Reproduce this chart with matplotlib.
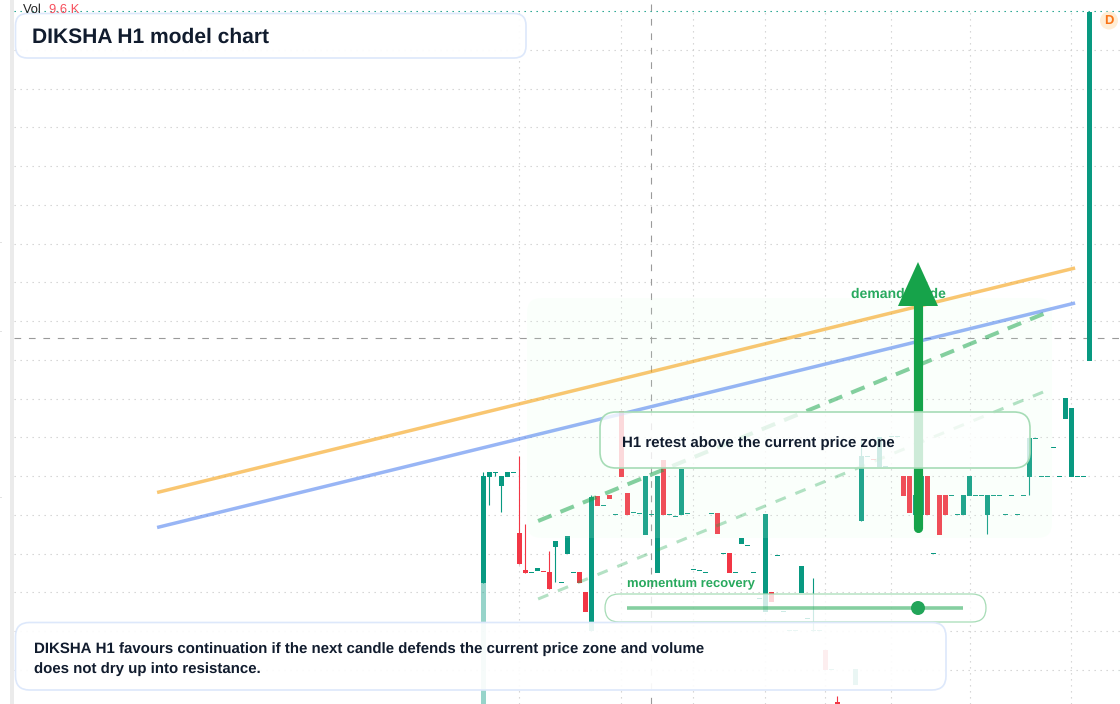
import matplotlib
matplotlib.use("Agg")
import matplotlib.pyplot as plt
from matplotlib.patches import FancyBboxPatch, Polygon, Circle, Rectangle
from matplotlib.transforms import Affine2D

plt.rcParams['font.family'] = ['Liberation Sans', 'DejaVu Sans']
plt.rcParams['text.hinting'] = 'no_hinting'
plt.rcParams['text.hinting_factor'] = 1

# candle slot, open, close (price levels)
candle_idx = [0, 1, 2, 3, 4, 5, 6, 7, 8, 9,
              10, 11, 12, 13, 14, 15, 16, 17, 18, 19,
              20, 21, 22, 23, 24, 25, 26, 27, 28, 29,
              30, 31, 32, 33, 34, 35, 36, 37, 38, 39,
              40, 41, 42, 43, 44, 45, 46, 47, 48, 49,
              50, 51, 52, 53, 54, 55, 56, 57, 58, 59,
              62, 63, 64, 65, 66, 67, 68, 69,
              70, 71, 72, 73, 74, 75, 76, 77, 78, 79,
              80, 81, 82, 83, 84, 85, 86, 87, 88, 89,
              90, 91, 92, 93, 94, 95, 96, 97, 98, 99,
              100, 101]
opens = [121, 227, 231, 218, 227, 231, 171, 134, 131, 133,
         133.5, 132, 157, 121, 150, 131, 132, 112, 73, 208,
         198.5, 209, 189, 293, 211, 191, 190, 169, 189, 131,
         244, 189.5, 187.5, 189, 190, 134, 133.5, 131, 190, 191,
         150, 151, 131, 160, 158, 131, 105.5, 92, 112, 148,
         92.5, 73.5, 73.5, 111, 85, 73.5, 73.5, 54, 34, 2,
         19, 183, 247.5, 245.5, 237, 237.5, 267, 267,
         228, 228, 189, 189, 228, 150, 209, 209, 208, 189,
         189, 208, 208, 208, 189, 208, 208, 189, 208, 189,
         208, 227.5, 265.5, 227, 227, 256, 227, 285, 227.5, 227,
         227, 343.5]
closes = [228, 232, 232, 228, 232, 232, 140, 131, 132, 136,
          132.5, 115, 163, 122, 168, 132, 121.5, 92, 207, 198,
          199.5, 205, 190, 227, 189, 192, 191, 228, 190, 228,
          189, 190.5, 188.5, 235.5, 191, 135, 134.5, 132, 191, 170,
          151, 131, 132, 166, 159, 132, 106.5, 190, 102, 149,
          93.5, 74.5, 74.5, 138, 86, 74.5, 74.5, 34, 35, -10,
          35, 248, 248.5, 244.5, 267, 238.5, 268, 268,
          208, 191, 209, 228, 189, 151, 169, 189, 209, 190,
          209, 228, 209, 209, 209, 209, 209, 190, 209, 190,
          209, 266, 266.5, 228, 228, 257, 228, 306, 296, 228,
          228, 692]

# wicks that stick out of the body: slot, high, low
wick_idx = [0, 1, 2, 3, 6, 7, 11, 12, 18, 55, 59, 63, 84, 91]
wick_high = [232, 232, 232, 228, 248, 180, 153, 163, 209, 126, 8, 264, 209, 266]
wick_low = [121, 199, 228, 192, 140, 131, 115, 122, 73, 73.5, 2, 183, 170, 209]

# volume bar showing under the first candle
vol_idx = [0]
vol_values = [121]

grid_levels = [693 - 38.75 * k for k in range(1, 18)]
grid_slots = [5.9, 22.9, 34.9, 46.9, 56.9, 67.9, 81.1, 97.9]
top_level = 693
cross_level = 366
cross_slot = 27.9

# lines: slot start/end, level start/end
orange_x, orange_y = [-54.4, 98.6], [211.5, 436]
blue_x, blue_y = [-54.4, 98.6], [176.5, 401]
dash_dark_x, dash_dark_y = [9.1, 94.1], [183, 392]
dash_light_x, dash_light_y = [9.1, 94.1], [105, 314]
arrow_x, arrow_y = [72.4, 72.4], [176.5, 400]

GREEN = '#089981'
RED = '#f23645'
INK = '#111c2e'
MID = '#28a95e'

fig = plt.figure(figsize=(11.2, 7.04), dpi=100)
ax = fig.add_axes([0, 0, 1, 1])
ax.set_xlim((0 - 483.5) / 6, (1120 - 483.5) / 6)
ax.set_ylim(0, 704)
ax.set_autoscalex_on(False)
ax.set_autoscaley_on(False)
ax.axis('off')

# pixel space, y pointing down, for the boxes and labels
px = Affine2D().scale(1, -1).translate(0, 704)
left_slot = (14 - 483.5) / 6

# grid and crosshair
ax.hlines(grid_levels, left_slot, ax.get_xlim()[1], color='#cfcfcf', lw=0.8,
          linestyles=(0, (1.2, 4.2)), zorder=1)
ax.vlines(grid_slots, 0, top_level, color='#cfcfcf', lw=0.8,
          linestyles=(0, (1.2, 4.2)), zorder=1)
ax.hlines([top_level], left_slot, ax.get_xlim()[1], color=GREEN, lw=0.8,
          linestyles=(0, (1.2, 4.2)), zorder=1)
ax.hlines([cross_level], left_slot, ax.get_xlim()[1], color='#9a9a9a', lw=0.8,
          linestyles=(0, (6, 7)), zorder=1.5)
ax.vlines([cross_slot], 0, 702, color='#9a9a9a', lw=0.8,
          linestyles=(0, (6, 7)), zorder=1.5)

# left strip and small scale marks
ax.add_patch(Rectangle((10, 0), 4, 704, transform=px, color='#ebebeb', lw=0, zorder=1))
for y in [242, 331, 497]:
    ax.add_patch(Rectangle((0, y), 2, 1, transform=px, color='#e2e2e2', lw=0, zorder=1))

# candles
colors = [GREEN if c >= o else RED for o, c in zip(opens, closes)]
bottoms = [min(o, c) for o, c in zip(opens, closes)]
heights = [abs(c - o) for o, c in zip(opens, closes)]
ax.bar(vol_idx, vol_values, width=5 / 6, color=GREEN, alpha=0.42, lw=0, zorder=2)
wick_colors = [colors[candle_idx.index(i)] for i in wick_idx]
# nudged a little so the snapped line lands in the middle of the body
ax.vlines([i - 0.1 for i in wick_idx], wick_low, wick_high, colors=wick_colors, lw=0.8, zorder=2)
ax.bar(candle_idx, heights, bottom=bottoms, width=5 / 6, color=colors, lw=0, zorder=2.1)

# pale zone over the candles
ax.add_patch(FancyBboxPatch((527, 298), 525, 240, boxstyle='round,pad=0,rounding_size=14',
                            transform=px, fc='#deffe6', ec='none', alpha=0.12, zorder=3))

# trend lines
ax.plot(dash_light_x, dash_light_y, color='#16a34a', alpha=0.32, lw=2.2,
        dashes=(3.6, 3.4), zorder=4)
ax.plot(dash_dark_x, dash_dark_y, color='#16a34a', alpha=0.52, lw=2.9,
        dashes=(3.6, 2.4), zorder=4)
ax.plot(orange_x, orange_y, color='#f59e0b', alpha=0.58, lw=2.5, solid_capstyle='butt', zorder=4)
ax.plot(blue_x, blue_y, color='#2563eb', alpha=0.47, lw=2.5, solid_capstyle='butt', zorder=4)

ax.text(851, 294, 'demand guide', transform=px, fontsize=10.08, fontweight='bold',
        color=MID, va='center', ha='left', zorder=4.5)

# big arrow
ax.plot(arrow_x, arrow_y, color='#16a34a', lw=6.6, solid_capstyle='round', zorder=5)
ax.add_patch(Polygon([(918, 262), (898, 306), (938, 306)], transform=px,
                     fc='#16a34a', ec='none', zorder=5))


def panel(x0, y0, x1, y1, radius, edge, alpha, lw, z):
    # white box first so the edge stays solid
    ax.add_patch(FancyBboxPatch((x0, y0), x1 - x0, y1 - y0,
                                boxstyle=f'round,pad=0,rounding_size={radius}',
                                transform=px, fc='white', ec='none', alpha=alpha, zorder=z))
    ax.add_patch(FancyBboxPatch((x0, y0), x1 - x0, y1 - y0,
                                boxstyle=f'round,pad=0,rounding_size={radius}',
                                transform=px, fc='none', ec=edge, lw=lw, zorder=z + 0.1))


panel(600, 412, 1030, 468, 16, '#a6dcb6', 0.79, 1.2, 6)
ax.text(622, 443, 'H1 retest above the current price zone', transform=px, fontsize=10.8,
        fontweight='bold', color=INK, va='center', ha='left', zorder=7)

panel(605, 594, 986, 622, 14, '#a6dcb6', 0.8, 0.9, 6)
ax.plot([(627 - 483.5) / 6, (963 - 483.5) / 6], [96, 96], color='#16a34a', alpha=0.52, lw=2.6,
        solid_capstyle='butt', zorder=7)
ax.add_patch(Circle((918, 608), 7, transform=px, fc='#22a559', ec='none', zorder=7.1))
ax.text(627, 583.5, 'momentum recovery', transform=px, fontsize=9.36, fontweight='bold',
        color=MID, va='center', ha='left', zorder=7)

panel(15.5, 622.5, 946, 690, 14, '#dde8fb', 0.92, 1.2, 8)
ax.text(34, 649, 'DIKSHA H1 favours continuation if the next candle defends the current price zone and volume',
        transform=px, fontsize=10.8, fontweight='bold', color=INK, va='center', ha='left', zorder=9)
ax.text(34, 669, 'does not dry up into resistance.', transform=px, fontsize=10.8,
        fontweight='bold', color=INK, va='center', ha='left', zorder=9)

panel(15.5, 13.5, 526, 58, 12, '#dde8fb', 0.95, 1.2, 8)
ax.text(32, 37.5, 'DIKSHA H1 model chart', transform=px, fontsize=15.12, fontweight='bold',
        color=INK, va='center', ha='left', zorder=9)

# volume legend and session badge
ax.text(23, 10, 'Vol', transform=px, fontsize=9.36, color='#222222', va='center', ha='left', zorder=9)
ax.text(49, 10, '9.6 K', transform=px, fontsize=9.2, color='#f7525f', va='center', ha='left', zorder=9)
ax.add_patch(Circle((1109, 20.5), 9, transform=px, fc='#ffedd5', ec='none', zorder=9))
ax.text(1109, 20.5, 'D', transform=px, fontsize=9, fontweight='bold', color='#f97316',
        va='center', ha='center', zorder=9.1)

fig.savefig('out.png', dpi=100)
